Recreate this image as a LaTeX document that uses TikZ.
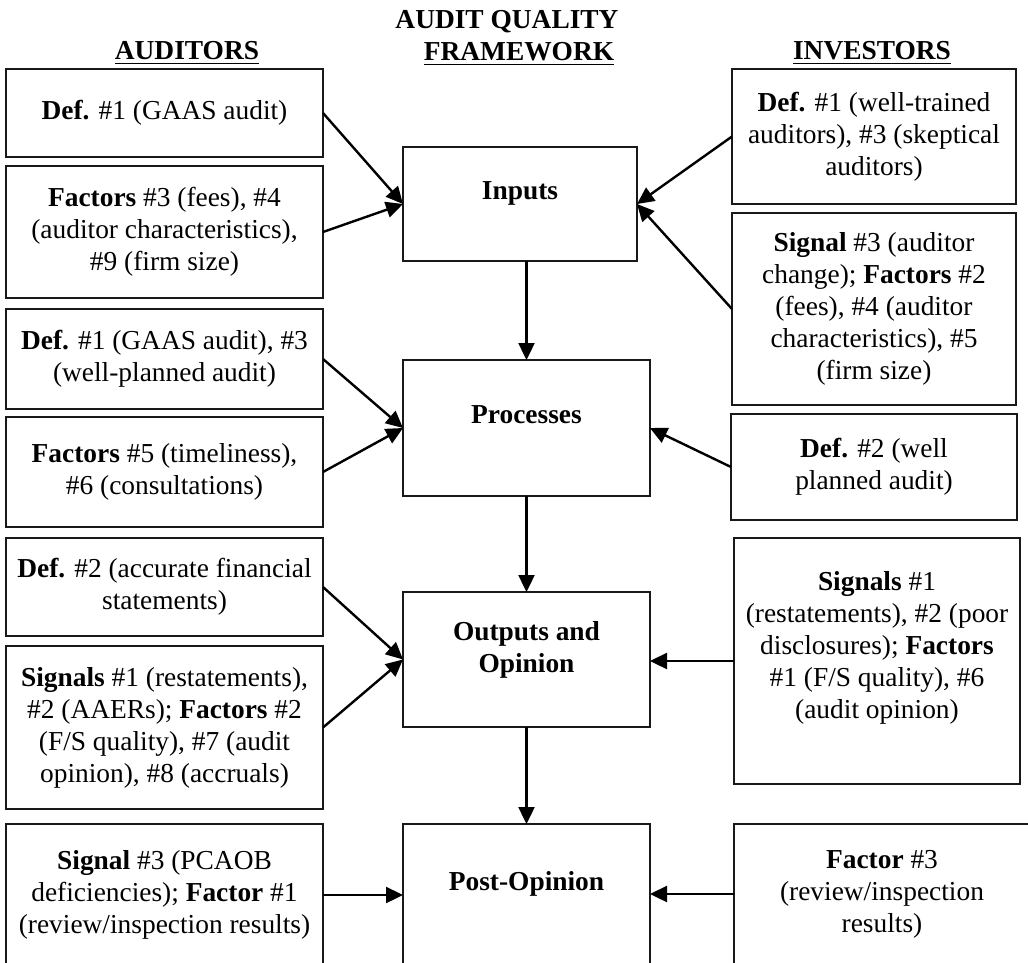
\documentclass[tikz,border=0pt]{standalone}
\usepackage{fontspec}
\setmainfont{Liberation Serif}
\usepackage{tikz}
\usetikzlibrary{arrows.meta, positioning}
\usepackage{xcolor}
\newcommand{\boxfont}{\fontsize{13.7pt}{16pt}\selectfont}
\tikzstyle{lbox} = [rectangle, 
minimum width=158.5pt, 
text centered, 
align=center, 
inner sep=2pt, 
outer sep=0pt, 
font=\boxfont, 
draw=black!90, 
line width=1pt]
\tikzstyle{rbox} = [lbox, 
minimum width=142pt]
\tikzstyle{stage} = [lbox, 
minimum width=123.5pt, 
font=\boxfont\bfseries]
\tikzstyle{heading} = [font=\boxfont\bfseries, anchor=base, inner sep=0pt]
\tikzstyle{arrow} = [line width=1.2pt,-{Triangle[length=8.5pt,width=8pt]}]

\begin{document}
\begin{tikzpicture}

\useasboundingbox (0,0) rectangle (514pt,-481.5pt);

% column headings
\node (hdaud) [heading] at (93.5pt,-30pt) {\underline{AUDITORS}};
\node (hdaqf) [heading] at (253.5pt,-14.5pt) {AUDIT QUALITY};
\node (hdfw) [heading] at (259.5pt,-30.5pt) {\underline{FRAMEWORK}};
\node (hdinv) [heading] at (436pt,-30pt) {\underline{INVESTORS}};

% auditors
\node (aud1) [lbox, minimum height=44pt] at (82.25pt,-56.5pt) {\textbf{Def.} \#1 (GAAS audit)};
\node (aud2) [lbox, minimum height=66pt, below=4.5pt of aud1] {\textbf{Factors} \#3 (fees), \#4\\(auditor characteristics),\\\#9 (firm size)};
\node (aud3) [lbox, minimum height=50pt, below=5.5pt of aud2] {\textbf{Def.} \#1 (GAAS audit), \#3\\(well-planned audit)};
\node (aud4) [lbox, minimum height=55pt, below=4pt of aud3] {\textbf{Factors} \#5 (timeliness),\\\#6 (consultations)};
\node (aud5) [lbox, minimum height=49pt, below=5.5pt of aud4] {\textbf{Def.} \#2 (accurate financial\\statements)};
\node (aud6) [lbox, minimum height=81.5pt, below=5pt of aud5] {\textbf{Signals} \#1 (restatements),\\\#2 (AAERs); \textbf{Factors} \#2\\(F/S quality), \#7 (audit\\opinion), \#8 (accruals)};
\node (aud7) [lbox, minimum height=71pt, below=7.5pt of aud6] {\textbf{Signal} \#3 (PCAOB\\deficiencies); \textbf{Factor} \#1\\(review/inspection results)};

% framework
\node (inputs) [stage, minimum width=117pt, minimum height=57pt] at (260pt,-102pt) {Inputs\\[-3pt]\mbox{}};
\node (process) [stage, minimum height=68pt, below=49.5pt of inputs, xshift=3.25pt] {Processes\\[-3pt]\mbox{}};
\node (output) [stage, minimum height=67.5pt, below=48pt of process] {Outputs and\\Opinion\\[-3pt]\mbox{}};
\node (postop) [stage, minimum height=70pt, below=48.5pt of output] {Post-Opinion\\[-3pt]\mbox{}};

% investors
\node (inv1) [rbox, minimum height=67.5pt] at (437pt,-68.25pt) {\textbf{Def.} \#1 (well-trained\\auditors), \#3 (skeptical\\auditors)};
\node (inv2) [rbox, minimum height=96pt, below=4.5pt of inv1] {\textbf{Signal} \#3 (auditor\\change); \textbf{Factors} \#2\\(fees), \#4 (auditor\\characteristics), \#5\\(firm size)};
\node (inv3) [rbox, minimum width=143pt, minimum height=53pt, below=4.5pt of inv2] {\textbf{Def.} \#2 (well\\planned audit)};
\node (inv4) [rbox, minimum width=143pt, minimum height=123pt, below=9pt of inv3, xshift=1.5pt] {\textbf{Signals} \#1\\(restatements), \#2 (poor\\disclosures); \textbf{Factors}\\\#1 (F/S quality), \#6\\(audit opinion)\\\mbox{}};
\node (inv5) [rbox, minimum width=148pt, minimum height=70pt, below=20pt of inv4, xshift=2.5pt] {\textbf{Factor} \#3\\(review/inspection\\results)};

\draw [arrow] (aud1.east) -- (inputs.west);
\draw [arrow] (aud2.east) -- (inputs.west);
\draw [arrow] (inv1.west) -- (inputs.east);
\draw [arrow] (inv2.west) -- (inputs.east);
\draw [arrow] (inputs.south -| process.north) -- (process.north);
\draw [arrow] (aud3.east) -- (process.west);
\draw [arrow] (aud4.east) -- (process.west);
\draw [arrow] (inv3.west) -- (process.east);
\draw [arrow] (process) -- (output);
\draw [arrow] (aud5.east) -- (output.west);
\draw [arrow] (aud6.east) -- (output.west);
\draw [arrow] (inv4.west) -- (inv4.west -| output.east);
\draw [arrow] (output) -- (postop);
\draw [arrow] (aud7.east) -- (aud7.east -| postop.west);
\draw [arrow] (inv5.west) -- (inv5.west -| postop.east);

\end{tikzpicture}
\end{document}
